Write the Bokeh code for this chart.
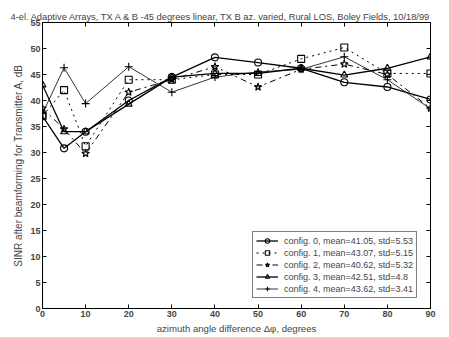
from bokeh.plotting import figure
from bokeh.models import LinearAxis, FixedTicker, Legend, LegendItem, Range1d, CustomJSTickFormatter
from bokeh.embed import file_html
from bokeh.resources import INLINE

title = "4-el. Adaptive Arrays, TX A & B -45 degrees linear, TX B az. varied, Rural LOS, Boley Fields, 10/18/99"
x_deg = [0, 5, 10, 20, 30, 40, 50, 60, 70, 80, 90]
config0 = [37, 30.8, 34, 40, 44.5, 48.3, 47.3, 46.2, 43.5, 42.6, 40.2]
config1 = [37, 42, 31.2, 44, 44, 45, 45, 48, 50.2, 45.2, 45.2]
config2 = [38.5, 34.5, 29.8, 41.6, 44, 46.5, 42.6, 46, 47, 45, 38.5]
config3 = [43, 34, 34, 39.3, 44.5, 45.2, 45.2, 46.2, 44.9, 46.2, 48.4]
config4 = [37.5, 46.3, 39.4, 46.5, 41.6, 44.5, 45.5, 46, 48.4, 44, 38.4]
labels = [
    "config. 0, mean=41.05, std=5.53",
    "config. 1, mean=43.07, std=5.15",
    "config. 2, mean=40.62, std=5.32",
    "config. 3, mean=42.51, std=4.8",
    "config. 4, mean=43.62, std=3.41",
]
x_ticks = [0, 10, 20, 30, 40, 50, 60, 70, 80, 90]
y_ticks = [0, 5, 10, 15, 20, 25, 30, 35, 40, 45, 50, 55]

FONT = "Liberation Sans"

p = figure(width=449, height=337, output_backend="svg", toolbar_location=None,
           x_range=Range1d(0, 90), y_range=Range1d(0, 55),
           min_border_left=42, min_border_right=19, min_border_top=22, min_border_bottom=29)
p.title.text = title
p.title.text_font = FONT
p.title.text_font_size = "9.3px"
p.title.text_font_style = "normal"
p.title.align = "left"
p.title.offset = -32
p.title.standoff = 2
p.xgrid.visible = False
p.ygrid.visible = False
p.outline_line_color = "black"
p.outline_line_width = 1

for ax in (p.xaxis[0], p.yaxis[0]):
    ax.major_tick_in = 4
    ax.major_tick_out = 0
    ax.minor_tick_in = 0
    ax.minor_tick_out = 0
    ax.major_label_text_font = FONT
    ax.major_label_text_font_size = "9px"
    ax.major_label_text_font_style = "bold"
    ax.axis_label_text_font = FONT
    ax.axis_label_text_font_style = "normal"
    ax.major_label_standoff = 2
    ax.axis_label_standoff = 3
    ax.axis_line_color = "black"
p.xaxis[0].axis_label_text_font_size = "9.6px"
p.yaxis[0].axis_label_text_font_size = "10px"
p.xaxis[0].ticker = FixedTicker(ticks=x_ticks)
p.yaxis[0].ticker = FixedTicker(ticks=y_ticks)
p.xaxis[0].axis_label = "azimuth angle difference Δφ, degrees"
p.yaxis[0].axis_label = "SINR after beamforming for Transmitter A, dB"

for side, tk in (("right", y_ticks), ("above", x_ticks)):
    a = LinearAxis(ticker=FixedTicker(ticks=tk),
                   formatter=CustomJSTickFormatter(code="return ''"),
                   major_tick_in=4, major_tick_out=0, minor_tick_in=0, minor_tick_out=0,
                   major_label_standoff=0)
    p.add_layout(a, side)

styles = [
    (config0, "circle", "solid", 1.3, 7),
    (config1, "square", "dotted", 1.0, 7),
    (config2, "star", "dashdot", 1.0, 8),
    (config3, "triangle", "solid", 1.3, 7),
    (config4, "cross", "solid", 0.8, 8),
]
items = []
for (ys, mk, dash, lw, sz), lab in zip(styles, labels):
    r1 = p.line(x_deg, ys, line_color="black", line_dash=dash, line_width=lw)
    r2 = p.scatter(x_deg, ys, marker=mk, size=sz, line_color="black",
                   fill_color=None, line_width=1.1)
    items.append(LegendItem(label=lab, renderers=[r1, r2]))

leg = Legend(items=items, location=(210, 10))
leg.label_text_font = FONT
leg.label_text_font_size = "9px"
leg.label_height = 11
leg.glyph_height = 11
leg.glyph_width = 22
leg.spacing = 1
leg.padding = 3
leg.margin = 0
leg.label_standoff = 6
leg.border_line_color = "black"
leg.border_line_width = 1
leg.background_fill_alpha = 1
p.add_layout(leg, "center")

open("out.html", "w").write(file_html(p, INLINE))
